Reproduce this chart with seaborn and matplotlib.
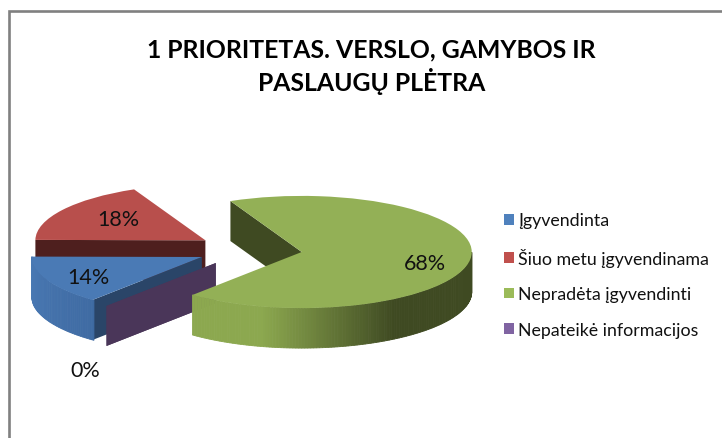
import numpy as np
import matplotlib
matplotlib.use("Agg")
import matplotlib.pyplot as plt
from matplotlib.patches import Patch
from matplotlib.lines import Line2D
import seaborn as sns

categories = ["Įgyvendinta", "Šiuo metu įgyvendinama", "Nepradėta įgyvendinti", "Nepateikė informacijos"]
values = [14, 18, 68, 0]
title = "1 PRIORITETAS. VERSLO, GAMYBOS IR\nPASLAUGŲ PLĖTRA"

top_colors = ["#4a7ab5", "#b84f4c", "#93b056", "#4a3659"]
legend_colors = ["#4f81bd", "#c0504d", "#9bbb59", "#8064a2"]
cut_colors = ["#2a4568", "#4e1f1e", "#3f4a22", "#4a3659"]
rim_light = ["#4a7ab5", "#b84f4c", "#8ca84f", "#4a3659"]
rim_dark = ["#3f6ba3", "#b84f4c", "#3f4a22", "#4a3659"]
draw_order = [1, 0, 3, 2]

W, H = 722, 439
SQUASH = 0.33
DEPTH = 40 / SQUASH
RADIUS = 170

sns.set_theme(style="white")
plt.rcParams["font.family"] = ["Lato", "DejaVu Sans"]

fig = plt.figure(figsize=(W / 100, H / 100), dpi=100, facecolor="white")
ax = fig.add_axes([0, 0, 1, 1])

wedges, _, autotexts = ax.pie(
    values, explode=[52.6] * 4, startangle=230, counterclock=False, radius=RADIUS,
    center=(249.6, -250.7 / SQUASH), colors=top_colors, autopct="%.0f%%",
    wedgeprops={"linewidth": 0},
)
ax.set_aspect("auto")
ax.set_xlim(0, W)
ax.set_ylim(-H / SQUASH, 0)
ax.axis("off")


def rim_point(w, angle):
    a = np.radians(angle)
    return w.center[0] + w.r * np.cos(a), w.center[1] + w.r * np.sin(a)


def wall(w, angle, color, z):
    x0, y0 = w.center
    x1, y1 = rim_point(w, angle)
    ax.fill([x0, x1, x1, x0], [y0, y1, y1 - DEPTH, y0 - DEPTH], color=color, lw=0, zorder=z)


def facing_cut(w, angle):
    # the flat side shows only if it looks towards the viewer
    mid = (w.theta1 + w.theta2) / 2
    return np.cos(np.radians(angle)) * np.sin(np.radians(mid - angle)) > 0 or w.theta1 == w.theta2


for z, i in enumerate(draw_order):
    w = wedges[i]
    base = (z + 1) * 10
    w.set_zorder(base + 5)
    for angle in (w.theta1, w.theta2):
        if facing_cut(w, angle):
            wall(w, angle, cut_colors[i], base)
    if w.theta1 == w.theta2:
        w.set_visible(False)
        continue
    # outer wall, front half only, shaded from left to right
    shade = sns.blend_palette([rim_light[i], rim_dark[i]], 100)
    steps = np.arange(w.theta1, w.theta2 + 1, 1.0)
    for a0, a1 in zip(steps[:-1], steps[1:]):
        if np.sin(np.radians((a0 + a1) / 2)) > 0:
            continue
        x0, y0 = rim_point(w, a0)
        x1, y1 = rim_point(w, a1)
        t = (x0 - 260) / 133 if i == 2 else (a0 - 180) / 50
        color = shade[int(np.clip(t, 0, 1) * 99)]
        ax.fill([x0, x1, x1, x0], [y0, y1, y1 - DEPTH, y0 - DEPTH],
                color=color, lw=0.6, zorder=base + 1)

label_px = [(88, 278), (118, 220), (425, 264), (85, 371)]
for t, (px, py) in zip(autotexts, label_px):
    t.set_position((px, -py / SQUASH))
    t.set_fontsize(15.5)
    t.set_color("#111111")
    t.set_zorder(100)
    t.set_ha("center")
    t.set_va("center")

fig.text(371.5 / W, 1 - 67 / H, title, ha="center", va="center", fontsize=17.8,
         fontweight="bold", color="black", linespacing=1.28)

handles = [Patch(facecolor=c, edgecolor="none") for c in legend_colors]
ax.legend(handles, categories, loc="center left", bbox_to_anchor=(504 / W, 1 - 276 / H),
          bbox_transform=fig.transFigure, frameon=False, fontsize=12.8, labelcolor="#111111",
          handlelength=0.55, handleheight=0.55, handletextpad=0.25, labelspacing=1.09,
          borderpad=0, borderaxespad=0)

fig.add_artist(Line2D([8.7 / W, 8.7 / W, 1], [0, 1 - 12 / H, 1 - 12 / H],
                      color="#808080", lw=1.9, solid_joinstyle="miter"))

fig.savefig("out.png", dpi=100)
